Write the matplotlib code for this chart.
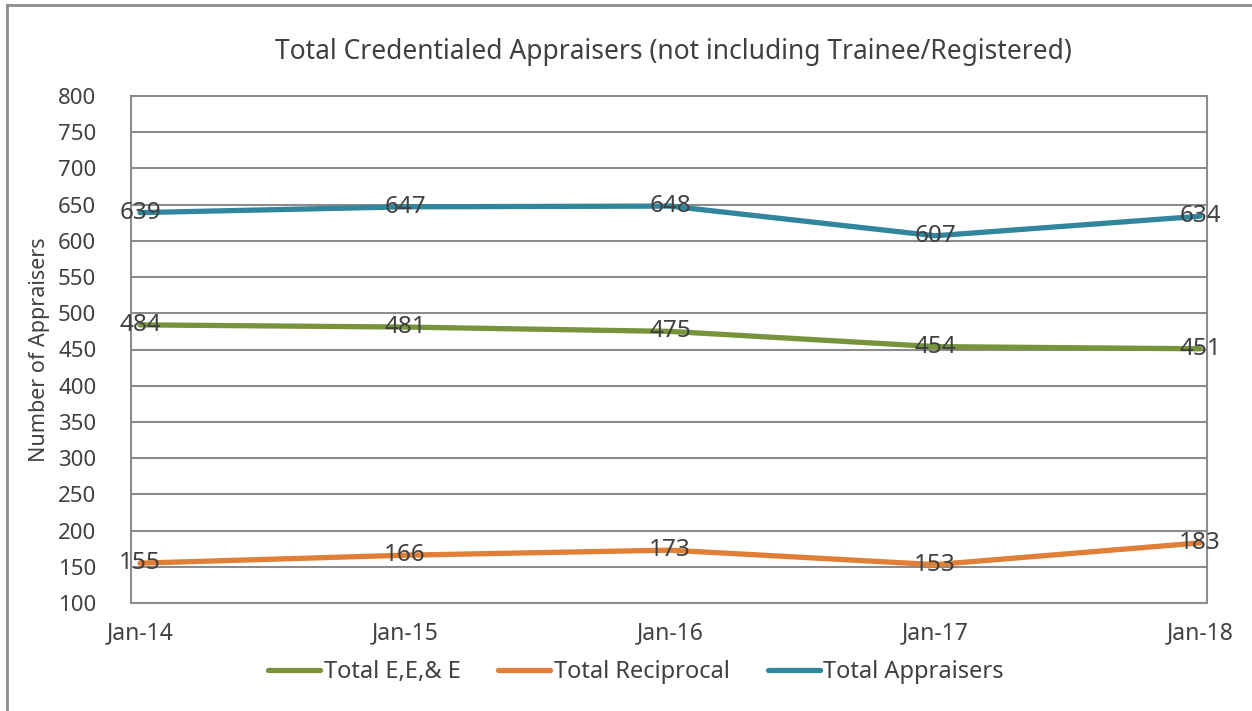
import matplotlib
matplotlib.use('Agg')
import matplotlib.pyplot as plt
from matplotlib.lines import Line2D

# Data
dates = ["Jan-14", "Jan-15", "Jan-16", "Jan-17", "Jan-18"]
total_eee = [484, 481, 475, 454, 451]
total_reciprocal = [155, 166, 173, 153, 183]
total_appraisers = [639, 647, 648, 607, 634]

plt.rcParams['font.family'] = ['Noto Sans', 'DejaVu Sans']
text_color = "#404040"
grid_color = "#8c8c8c"

series = [
    ("Total E,E,& E", total_eee, "#77933C"),
    ("Total Reciprocal", total_reciprocal, "#E07F35"),
    ("Total Appraisers", total_appraisers, "#31859C"),
]

fig = plt.figure(figsize=(12.52, 7.11), dpi=100)
ax = fig.add_axes([131 / 1252, 1 - 603 / 711, (1207 - 131) / 1252, (603 - 96) / 711])

x = list(range(len(dates)))
for name, vals, col in series:
    ax.plot(x, vals, color=col, linewidth=3.8, solid_capstyle='round', solid_joinstyle='round', label=name, zorder=3)
    for xi, v in zip(x, vals):
        ax.text(xi, v, str(v), ha='center', va='center', fontsize=17.5, color=text_color, zorder=4)

ax.set_xlim(-0.034, 4.026)
ax.set_ylim(100, 800)
ax.set_yticks(range(100, 801, 50))
ax.set_xticks(x)
ax.set_xticklabels(dates)
ax.yaxis.grid(True, color=grid_color, linewidth=1.5, zorder=0)
ax.set_axisbelow(True)
for s in ax.spines.values():
    s.set_color(grid_color)
    s.set_linewidth(1.5)
ax.tick_params(axis='both', length=0, colors=text_color)
ax.tick_params(axis='y', pad=25, labelsize=16)
ax.tick_params(axis='x', pad=13, labelsize=16.5)
ax.set_ylabel("Number of Appraisers", fontsize=15.5, color=text_color, labelpad=6)

fig.text(673 / 1252, 1 - 52 / 711, "Total Credentialed Appraisers (not including Trainee/Registered)",
         ha='center', va='center', fontsize=19, color=text_color)

handles = [Line2D([0], [0], color=c, linewidth=3.8, solid_capstyle='round') for _, _, c in series]
fig.legend(handles, [n for n, _, _ in series], loc='center', bbox_to_anchor=(636 / 1252, 1 - 672 / 711),
           ncol=3, frameon=False, fontsize=17, handlelength=2.2, handletextpad=0.15, columnspacing=1.6,
           labelcolor=text_color)

# outer chart border (left and top visible)
fig.add_artist(Line2D([7 / 1252, 7 / 1252], [0, 1 - 5 / 711], transform=fig.transFigure, color=grid_color, linewidth=2))
fig.add_artist(Line2D([7 / 1252, 1], [1 - 5 / 711, 1 - 5 / 711], transform=fig.transFigure, color=grid_color, linewidth=2))

fig.savefig("out.png", dpi=100)
